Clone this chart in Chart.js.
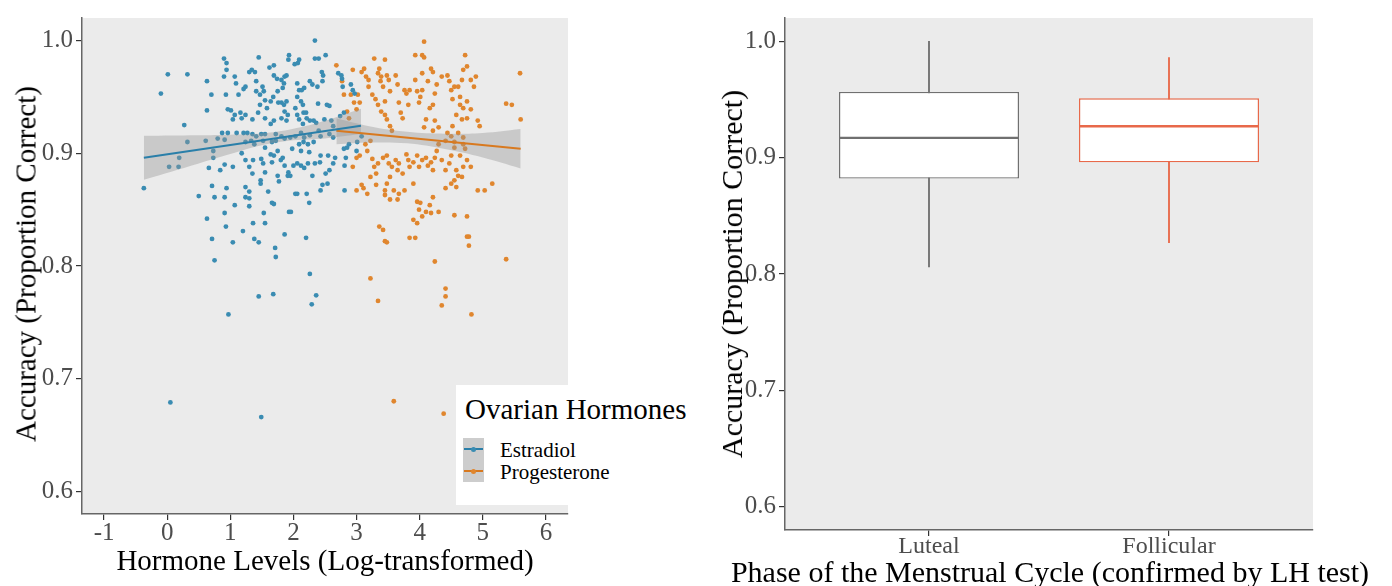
<!DOCTYPE html>
<html>
<head>
<meta charset="utf-8">
<script src="https://cdn.jsdelivr.net/npm/chart.js@4.4.1/dist/chart.umd.min.js"></script>
<style>
  body { margin: 0; background: #fff; font-family: 'Liberation Serif', 'Times New Roman', serif; }
  #wrap { position: relative; width: 1392px; height: 586px; overflow: hidden; }
  canvas { position: absolute; top: 0; }
  .title { position: absolute; white-space: nowrap; line-height: 1; color: #000; }
  #legend { position: absolute; left: 456px; top: 385px; width: 240px; height: 120px; background: #fff; }
  #legend div { position: absolute; white-space: nowrap; line-height: 1; }
  .key { left: 7px; width: 21px; height: 22px; background: #cdcdcd; }
  .key .ln { left: 1px; right: 1px; top: 10px; height: 2px; }
  .key .dot { left: 8px; top: 8.5px; width: 5px; height: 5px; border-radius: 50%; }
</style>
</head>
<body>
<div id="wrap">
  <canvas id="hormones" width="700" height="586" style="left:0"></canvas>
  <canvas id="phases" width="692" height="586" style="left:700px"></canvas>

  <div class="title" style="left:325px; top:546px; font-size:29px; transform:translateX(-50%)">Hormone Levels (Log-transformed)</div>
  <div class="title" style="left:26px; top:263.5px; font-size:29px; transform:translate(-50%,-50%) rotate(-90deg)">Accuracy (Proportion Correct)</div>
  <div class="title" style="left:1050px; top:557px; font-size:30px; transform:translateX(-50%)">Phase of the Menstrual Cycle (confirmed by LH test)</div>
  <div class="title" style="left:732px; top:273.5px; font-size:30px; transform:translate(-50%,-50%) rotate(-90deg)">Accuracy (Proportion Correct)</div>

  <div id="legend">
    <div style="left:9px; top:10px; font-size:29px">Ovarian Hormones</div>
    <div class="key" style="top:53px"><div class="ln" style="background:#2a7fa9"></div><div class="dot" style="background:#3a8cb2"></div></div>
    <div class="key" style="top:75px"><div class="ln" style="background:#d8791f"></div><div class="dot" style="background:#e0862e"></div></div>
    <div style="left:44px; top:55px; font-size:21px">Estradiol</div>
    <div style="left:44px; top:77px; font-size:21px">Progesterone</div>
  </div>
</div>

<script>
// axis ticks
let hormoneTicks = [-1, 0, 1, 2, 3, 4, 5, 6];
let accuracyTicks = [0.6, 0.7, 0.8, 0.9, 1.0];

// [log hormone level, accuracy]
let estradiol = [
  [-0.37,0.869],[-0.10,0.953],[0.01,0.970],[0.32,0.970],[0.27,0.925],[0.32,0.910],[0.03,0.888],[0.18,0.888],[0.19,0.896],[0.61,0.911],[0.73,0.896],[0.50,0.862],
  [0.63,0.964],[0.63,0.938],[0.70,0.952],[0.73,0.902],[0.66,0.887],[0.71,0.871],[0.75,0.861],[0.63,0.842],[0.71,0.824],[0.75,0.805],[0.90,0.984],[0.94,0.980],[0.94,0.974],[0.90,0.968],[0.93,0.952],[0.96,0.939],[0.87,0.918],[0.96,0.918],[0.91,0.912],[0.80,0.913],[0.84,0.885],[0.91,0.890],[0.94,0.869],[0.91,0.861],[0.91,0.847],[0.93,0.835],[1.04,0.821],[1.07,0.854],[1.04,0.888],
  [1.07,0.968],[1.09,0.962],[1.13,0.952],[1.01,0.938],[1.07,0.934],[1.04,0.930],[1.16,0.936],[1.24,0.934],[1.18,0.931],[1.10,0.918],[1.21,0.918],[1.27,0.918],[1.24,0.910],[1.33,0.911],[1.18,0.900],[1.24,0.894],[1.30,0.888],[1.36,0.894],[1.35,0.882],[1.24,0.870],[1.30,0.866],[1.24,0.861],[1.30,0.860],[1.20,0.831],[1.36,0.838],[1.38,0.824],[1.45,0.821],[1.55,0.838],[1.30,0.853],[1.21,0.957],[1.24,0.959],[1.30,0.972],[1.34,0.974],[1.39,0.972],[1.41,0.964],[1.45,0.985],[1.41,0.955],[1.47,0.952],[1.51,0.959],[1.53,0.955],[1.55,0.947],[1.47,0.943],[1.58,0.940],[1.44,0.936],[1.35,0.930],[1.55,0.931],[1.35,0.917],[1.41,0.915],[1.49,0.917],[1.55,0.917],[1.52,0.911],[1.38,0.908],[1.55,0.905],[1.49,0.895],[1.52,0.891],[1.55,0.883],[1.48,0.876],[1.48,0.873],[1.60,0.866],[1.66,0.856],[1.69,0.855],[1.53,0.847],[1.71,0.816],[1.72,0.808],
  [1.62,0.976],[1.69,0.978],[1.69,0.969],[1.74,0.966],[1.81,0.965],[1.86,0.968],[1.89,0.969],[1.85,0.962],[1.83,0.958],[1.75,0.955],[1.68,0.950],[1.64,0.946],[1.76,0.945],[1.81,0.945],[1.85,0.943],[1.89,0.946],[1.86,0.937],[1.91,0.934],[1.81,0.931],[1.89,0.929],[1.69,0.929],[1.64,0.926],[1.72,0.917],[1.81,0.915],[1.86,0.913],[1.95,0.914],[1.72,0.911],[1.66,0.910],[1.64,0.899],[1.69,0.898],[1.75,0.902],[1.83,0.896],[1.80,0.894],[1.66,0.892],[1.86,0.889],[1.92,0.883],[1.75,0.880],[1.91,0.880],[1.95,0.880],[1.77,0.875],[2.03,0.864],[1.93,0.848],[1.96,0.848],[1.86,0.828],[1.93,0.987],[2.02,0.979],[2.09,0.983],[2.07,0.980],[1.92,0.983],
  [2.06,0.962],[2.09,0.956],[2.13,0.956],[2.06,0.950],[2.03,0.940],[2.12,0.946],[2.15,0.943],[2.06,0.934],[2.16,0.936],[2.20,0.936],[2.21,0.931],[2.09,0.930],[2.15,0.926],[2.26,0.929],[2.03,0.915],[2.12,0.918],[2.17,0.914],[2.26,0.916],[2.09,0.908],[2.16,0.910],[2.23,0.908],[2.32,0.910],[1.98,0.904],[2.12,0.902],[2.25,0.901],[2.06,0.891],[2.00,0.889],[2.12,0.889],[2.17,0.887],[2.23,0.891],[2.30,0.880],[2.06,0.864],[2.21,0.864],[2.25,0.856],[2.20,0.825],[2.26,0.793],[2.17,0.958],[2.26,0.964],[2.30,0.961],[2.34,0.984],[2.34,1.000],[2.40,0.984],[2.51,0.987],[2.45,0.972],[2.47,0.969],[2.46,0.964],[2.38,0.959],[2.39,0.944],[2.32,0.929],[2.36,0.927],[2.49,0.930],[2.40,0.920],[2.43,0.915],[2.53,0.943],[2.57,0.942],[2.43,0.898],[2.42,0.892],[2.34,0.891],[2.51,0.882],[2.55,0.898],[2.57,0.885],[2.43,0.867],[2.46,0.872],[2.54,0.873],
  [2.60,0.929],[2.63,0.924],[2.57,0.917],[2.63,0.914],[2.66,0.896],[2.63,0.891],[2.71,0.971],[2.76,0.969],[2.77,0.966],[2.78,0.959],[2.80,0.936],[2.74,0.933],[2.80,0.904],[2.83,0.896],[2.81,0.889],[2.81,0.867],[2.91,0.961],[2.94,0.956],[2.97,0.953],[2.85,0.905],[2.88,0.908],[3.00,0.902],[3.01,0.910],[3.08,0.915],
  [1.45,0.773],[1.68,0.775],[2.36,0.774],[0.97,0.757],[2.29,0.766],[0.05,0.679],[1.49,0.666]
];

let progesterone = [
  [2.68,0.978],[2.77,0.964],[2.80,0.952],[2.85,0.937],[2.88,0.931],[2.94,0.974],[2.91,0.952],[2.96,0.945],[3.00,0.939],[3.02,0.952],[3.05,0.945],[3.08,0.972],[3.12,0.975],[3.15,0.968],[3.19,0.965],[3.19,0.959],[3.25,0.952],[3.28,0.984],[3.30,0.948],[3.34,0.943],[3.34,0.971],[3.36,0.975],[3.39,0.968],[3.38,0.964],[3.42,0.959],[3.45,0.983],[3.48,0.969],[3.51,0.965],[3.53,0.955],[3.45,0.946],[3.39,0.937],[3.45,0.934],[3.48,0.930],[3.53,0.924],[3.56,0.920],[3.62,0.969],[3.65,0.961],[3.67,0.945],[3.70,0.936],[3.76,0.956],[3.73,0.931],[3.79,0.953],[3.84,0.956],[3.82,0.943],[3.93,0.987],[4.04,0.987],[4.07,0.985],[4.07,0.999],[3.93,0.965],[3.96,0.955],[4.04,0.971],[4.04,0.956],[4.01,0.950],[3.99,0.945],[4.13,0.964],[4.18,0.975],[4.21,0.972],[4.24,0.953],[4.27,0.961],[4.21,0.943],[4.16,0.940],[4.10,0.930],[4.07,0.923],[4.21,0.920],[4.24,0.929],[4.30,0.923],[4.35,0.968],[4.44,0.969],[4.47,0.964],[4.50,0.956],[4.55,0.959],[4.52,0.948],[4.64,0.950],[4.69,0.974],[4.75,0.977],[4.72,0.987],[4.67,0.965],[4.61,0.959],[4.64,0.943],[4.69,0.940],[4.75,0.946],[4.81,0.939],[4.86,0.959],[4.81,0.965],[4.89,0.968],[4.92,0.929],[4.95,0.924],[4.75,0.931],[4.67,0.930],[4.58,0.934],[4.52,0.924],[4.50,0.915],[4.44,0.918],[4.41,0.911],[4.55,0.910],[4.61,0.918],[4.69,0.914],[4.69,0.908],[4.72,0.904],[5.37,0.944],[5.46,0.943],[5.59,0.971],[5.60,0.930],
  [3.00,0.896],[2.94,0.888],[3.05,0.898],[3.14,0.908],[3.17,0.902],[3.22,0.911],[3.25,0.895],[3.28,0.888],[3.22,0.879],[3.31,0.882],[3.34,0.891],[3.42,0.896],[3.48,0.898],[3.51,0.891],[3.53,0.879],[3.56,0.888],[3.62,0.894],[3.65,0.885],[3.67,0.891],[3.73,0.882],[3.79,0.899],[3.82,0.894],[3.84,0.888],[3.90,0.892],[3.96,0.898],[3.99,0.888],[4.04,0.894],[4.10,0.896],[4.13,0.889],[4.18,0.892],[4.21,0.885],[4.24,0.896],[4.27,0.902],[4.30,0.908],[4.35,0.894],[4.41,0.885],[4.47,0.891],[4.50,0.898],[4.55,0.905],[4.58,0.885],[4.61,0.880],[4.67,0.879],[4.69,0.888],[4.75,0.894],[4.81,0.888],[4.64,0.898],
  [3.11,0.869],[3.17,0.864],[3.00,0.867],[3.08,0.872],[3.31,0.872],[3.48,0.873],[3.45,0.863],[3.53,0.859],[3.45,0.867],[3.59,0.867],[3.67,0.864],[3.65,0.859],[3.76,0.867],[3.90,0.873],[3.96,0.857],[4.01,0.856],[3.99,0.850],[4.10,0.848],[4.16,0.854],[4.18,0.847],[4.21,0.861],[4.41,0.869],[4.50,0.873],[4.55,0.876],[4.58,0.870],[4.92,0.867],[5.03,0.867],[5.15,0.873],
  [3.36,0.835],[3.42,0.832],[3.45,0.822],[3.48,0.821],[3.84,0.825],[3.93,0.825],[3.90,0.841],[3.96,0.838],[4.04,0.844],[4.30,0.848],[4.55,0.845],[4.75,0.844],[4.75,0.826],[4.78,0.826],[4.78,0.818],[4.24,0.804],[3.22,0.789],[3.34,0.769],[4.41,0.780],[4.41,0.773],[4.35,0.765],[5.37,0.806],[3.59,0.680],[4.38,0.669],[4.82,0.757]
];

// fitted lines and their confidence bands
let estradiolFitX = [-0.37, 3.07];
let estradiolFitY = [0.896, 0.9245];
let estradiolBandX = [-0.37, 0.5, 1.0, 1.5, 2.0, 2.5, 3.07];
let estradiolBandHi = [0.9155, 0.916, 0.9165, 0.9175, 0.9217, 0.9288, 0.9395];
let estradiolBandLo = [0.8765, 0.891, 0.8993, 0.9071, 0.9115, 0.9132, 0.917];

let progesteroneFitX = [2.68, 5.60];
let progesteroneFitY = [0.920, 0.904];
let progesteroneBandX = [2.68, 3.2, 3.8, 4.4, 5.0, 5.6];
let progesteroneBandHi = [0.931, 0.924, 0.919, 0.9173, 0.918, 0.9215];
let progesteroneBandLo = [0.908, 0.9095, 0.9088, 0.9037, 0.8962, 0.8865];

// boxplot by cycle phase
let phases = ["Luteal", "Follicular"];
let whiskerLow = [0.806, 0.827];
let q1 = [0.882, 0.896];
let median = [0.917, 0.927];
let q3 = [0.9565, 0.951];
let whiskerHigh = [1.0, 0.986];

Chart.defaults.font.family = "'Liberation Serif', 'Times New Roman', serif";
Chart.defaults.font.size = 25;
Chart.defaults.color = "#4d4d4d";

let blue = "#3a8cb2";
let orange = "#e0862e";
let boxColors = ["#707070", "#e8694a"];

// grey panel behind the plot
let panelBg = {
  id: "panelBg",
  beforeDraw(chart) {
    let a = chart.chartArea;
    let ctx = chart.ctx;
    ctx.save();
    ctx.fillStyle = "#ebebeb";
    ctx.fillRect(a.left, a.top, a.right - a.left, a.bottom - a.top);
    ctx.restore();
  },
};

function toXY(xs, ys) {
  return xs.map((x, i) => ({ x: x, y: ys[i] }));
}

function axis(extra) {
  return Object.assign({
    grid: { display: true, offset: false, drawOnChartArea: false, drawTicks: true, tickLength: 6, color: "#333", lineWidth: 1.2 },
    border: { display: true, color: "#666", width: 1.5 },
  }, extra);
}

// left: hormone levels scatter
new Chart(document.querySelector("#hormones"), {
  type: "scatter",
  data: {
    datasets: [
      { type: "line", data: toXY(estradiolFitX, estradiolFitY), borderColor: "#2a7fa9", borderWidth: 2, pointRadius: 0, order: 0 },
      { type: "line", data: toXY(progesteroneFitX, progesteroneFitY), borderColor: "#d8791f", borderWidth: 2, pointRadius: 0, order: 0 },
      { type: "line", data: toXY(estradiolBandX, estradiolBandHi), borderWidth: 0, pointRadius: 0, tension: 0.4, fill: false, order: 1 },
      { type: "line", data: toXY(estradiolBandX, estradiolBandLo), borderWidth: 0, pointRadius: 0, tension: 0.4, fill: "-1", backgroundColor: "rgba(150,150,150,0.4)", order: 1 },
      { type: "line", data: toXY(progesteroneBandX, progesteroneBandHi), borderWidth: 0, pointRadius: 0, tension: 0.4, fill: false, order: 1 },
      { type: "line", data: toXY(progesteroneBandX, progesteroneBandLo), borderWidth: 0, pointRadius: 0, tension: 0.4, fill: "-1", backgroundColor: "rgba(150,150,150,0.4)", order: 1 },
      { data: estradiol.map(p => ({ x: p[0], y: p[1] })), backgroundColor: blue, pointRadius: 2.4, borderWidth: 0, order: 2 },
      { data: progesterone.map(p => ({ x: p[0], y: p[1] })), backgroundColor: orange, pointRadius: 2.4, borderWidth: 0, order: 2 },
    ],
  },
  options: {
    responsive: false,
    animation: false,
    events: [],
    layout: { autoPadding: false, padding: { left: 0, top: 12, right: 132, bottom: 0 } },
    plugins: { legend: { display: false }, tooltip: { enabled: false } },
    scales: {
      x: axis({
        type: "linear", min: -1.35, max: 6.35,
        afterBuildTicks: s => { s.ticks = hormoneTicks.map(v => ({ value: v })); },
        afterFit: s => { s.height = 72; },
        ticks: { padding: -2, callback: v => String(v) },
      }),
      y: axis({
        type: "linear", min: 0.58, max: 1.02,
        afterBuildTicks: s => { s.ticks = accuracyTicks.map(v => ({ value: v })); },
        afterFit: s => { s.width = 82; },
        ticks: { padding: 3, callback: v => v.toFixed(1) },
      }),
    },
  },
  plugins: [panelBg],
});

// right: boxplot by phase
new Chart(document.querySelector("#phases"), {
  type: "bar",
  data: {
    datasets: [
      {
        type: "line", data: toXY([1, 2], median), showLine: false,
        pointStyle: "line", pointRadius: 90, pointBorderWidth: 2.4,
        pointBorderColor: boxColors, pointBackgroundColor: boxColors, order: 0,
      },
      {
        data: phases.map((p, i) => ({ x: i + 1, y: [q1[i], q3[i]] })),
        backgroundColor: "#fff", borderColor: boxColors, borderWidth: 1.4, borderSkipped: false,
        grouped: false, barPercentage: 0.75, categoryPercentage: 1, order: 1,
      },
      {
        data: phases.map((p, i) => ({ x: i + 1, y: [whiskerLow[i], whiskerHigh[i]] })),
        backgroundColor: boxColors, barThickness: 1.2, grouped: false, order: 2,
      },
    ],
  },
  options: {
    responsive: false,
    animation: false,
    events: [],
    layout: { autoPadding: false, padding: { left: 0, top: 15.5, right: 79, bottom: 0 } },
    plugins: { legend: { display: false }, tooltip: { enabled: false } },
    scales: {
      x: axis({
        type: "linear", min: 0.4, max: 2.6, offset: false,
        afterBuildTicks: s => { s.ticks = [{ value: 1 }, { value: 2 }]; },
        afterFit: s => { s.height = 56; },
        ticks: { padding: -3.5, font: { size: 24 }, callback: v => phases[v - 1] },
      }),
      y: axis({
        type: "linear", min: 0.58, max: 1.02,
        afterBuildTicks: s => { s.ticks = accuracyTicks.map(v => ({ value: v })); },
        afterFit: s => { s.width = 85; },
        ticks: { padding: 3, callback: v => v.toFixed(1) },
      }),
    },
  },
  plugins: [panelBg],
});
</script>
</body>
</html>
